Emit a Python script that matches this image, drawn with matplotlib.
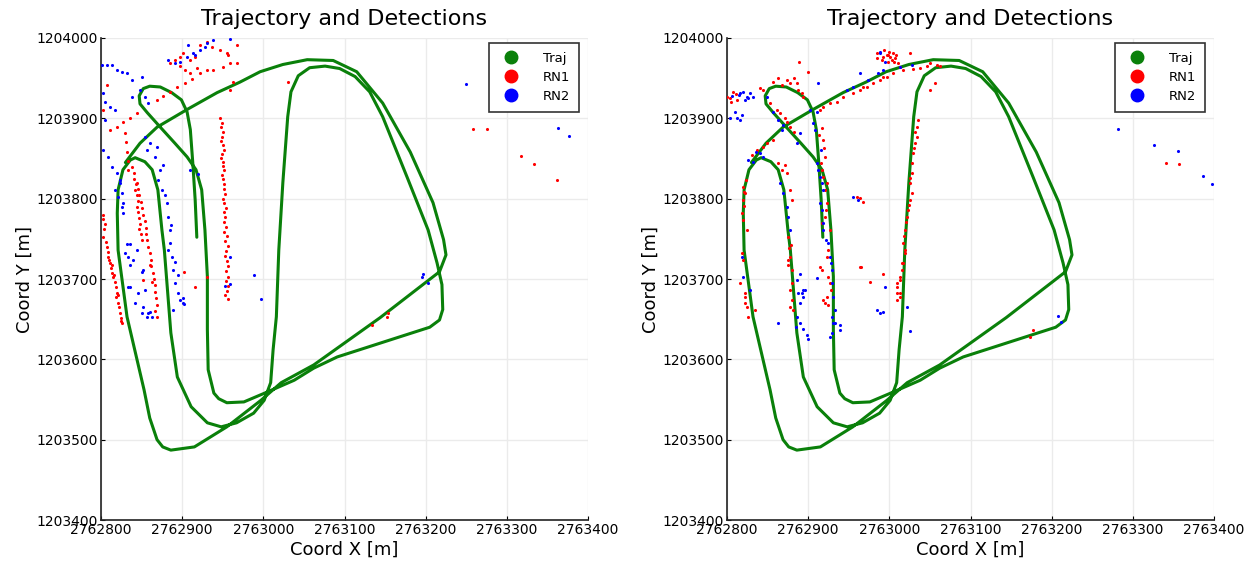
import numpy as np
import matplotlib
matplotlib.use("Agg")
import matplotlib.pyplot as plt
from matplotlib.lines import Line2D

X0 = 2762800
Y0 = 1203400
x_ticks = [2762800, 2762900, 2763000, 2763100, 2763200, 2763300, 2763400]
y_ticks = [1203400, 1203500, 1203600, 1203700, 1203800, 1203900, 1204000]
title = "Trajectory and Detections"
legend_labels = ["Traj", "RN1", "RN2"]

# trajectory (meters east / north of X0, Y0)
traj_dx = [30, 48, 69, 106, 143, 171, 196, 224, 254, 286, 315, 347, 381, 409, 422, 425, 417,
           344, 262, 222, 197, 155, 115, 86, 76, 69, 60, 53, 32, 21, 20, 21, 27, 36, 42, 54, 63, 70,
           75, 78, 86, 94, 111, 131, 148, 167, 188, 201, 209, 212, 216, 219, 224, 230, 234, 243,
           257, 276, 294, 313, 331, 347, 377, 403, 414, 420, 421, 417, 405, 368, 328, 291, 262,
           238, 204, 176, 155, 145, 139, 132, 131, 131, 128, 124, 117, 106, 91, 73, 57, 48, 47,
           52, 60, 73, 87, 99, 106, 110, 113, 116, 118]
traj_dy = [445, 469, 489, 511, 532, 545, 558, 567, 573, 572, 558, 519, 458, 395, 349, 330, 309,
           252, 193, 171, 149, 116, 91, 87, 91, 100, 127, 162, 253, 336, 382, 411, 436, 448, 451,
           446, 436, 411, 361, 336, 233, 178, 141, 121, 116, 121, 133, 149, 171, 212, 253, 336,
           420, 502, 533, 553, 563, 565, 562, 552, 533, 502, 427, 361, 320, 293, 262, 249, 240,
           228, 215, 203, 189, 174, 159, 147, 146, 151, 158, 187, 237, 303, 361, 411, 436, 452,
           469, 489, 507, 518, 528, 537, 540, 539, 532, 523, 508, 486, 445, 398, 352]

# ---- left panel detections ----
rn1_left = [
    (147, 500), (149, 494), (148, 489), (150, 483), (149, 477), (148, 472), (150, 467), (151, 461),
    (149, 456), (148, 451), (150, 446), (150, 441), (151, 436), (149, 430), (150, 425), (151, 418),
    (151, 412), (153, 406), (150, 400), (152, 394), (154, 388), (152, 383), (153, 377), (151, 371),
    (154, 365), (152, 359), (155, 353), (153, 347), (156, 341), (154, 335), (153, 329), (155, 322),
    (157, 316), (154, 310), (156, 303), (154, 297), (157, 291), (155, 285), (153, 280), (156, 275),
    (2, 380), (5, 369), (2, 352), (7, 340), (9, 328), (11, 320), (14, 308), (17, 296), (20, 283),
    (21, 270), (23, 258), (26, 245), (3, 375), (4, 362), (6, 346), (8, 334), (10, 324), (12, 314),
    (15, 302), (18, 290), (19, 277), (22, 265), (24, 252), (25, 248), (16, 305), (21, 280), (13, 318),
    (38, 439), (40, 432), (41, 425), (43, 418), (42, 411), (44, 404), (45, 397), (44, 390), (46, 383),
    (47, 376), (48, 369), (47, 362), (49, 356), (50, 349),
    (44, 420), (46, 412), (47, 404), (49, 396), (51, 388), (52, 380), (54, 372), (55, 364), (56, 356),
    (57, 348), (58, 340), (60, 332), (61, 324), (62, 316), (64, 308), (65, 300), (66, 292), (67, 284),
    (68, 276), (69, 268), (67, 260), (69, 253), (63, 296), (60, 318), (52, 299),
    (11, 486), (20, 489), (27, 496), (36, 500), (44, 507), (2, 510), (7, 542),
    (30, 482), (31, 470), (32, 458), (33, 447), (33, 436),
    (69, 523), (76, 528), (85, 533), (93, 539), (103, 544), (112, 549), (122, 556), (130, 560),
    (138, 560), (150, 564), (159, 569), (167, 569), (85, 569), (91, 573), (101, 581), (109, 573),
    (116, 576), (97, 565), (103, 560), (109, 556), (118, 563), (155, 581), (156, 579), (162, 545),
    (159, 535), (122, 591), (130, 595), (137, 589), (146, 585), (167, 591), (97, 576),
    (458, 487), (475, 487), (517, 453), (533, 443), (562, 423),
    (230, 545), (334, 243), (353, 258), (352, 253), (116, 290), (102, 309), (130, 303),
]
rn2_left = [
    (1, 566), (7, 566), (20, 560), (26, 558), (32, 556), (38, 548), (2, 532), (5, 520), (11, 514),
    (17, 510), (5, 498), (2, 461), (9, 452), (14, 439), (20, 432), (23, 420), (21, 402), (26, 390),
    (27, 382), (48, 535), (54, 527), (58, 519), (50, 552), (38, 527), (14, 566),
    (82, 573), (91, 569), (97, 570), (106, 576), (113, 581), (122, 585), (130, 594), (138, 598),
    (107, 591), (116, 579), (128, 589), (159, 599),
    (60, 469), (69, 464), (66, 452), (73, 436), (70, 423), (75, 411), (81, 395), (82, 377), (85, 361),
    (85, 345), (87, 327), (89, 311), (91, 295), (95, 283), (97, 274), (101, 270), (89, 261), (54, 477),
    (57, 461), (76, 442), (79, 405), (86, 367), (82, 336), (91, 321), (95, 305),
    (32, 344), (36, 344), (30, 332), (44, 336), (39, 324), (52, 311), (36, 290), (46, 283), (42, 270),
    (58, 258), (63, 253), (33, 327), (36, 317), (50, 309), (33, 290), (52, 265), (50, 258), (57, 253),
    (60, 259), (54, 286),
    (23, 423), (27, 395), (26, 407), (17, 411),
    (109, 436), (119, 431), (189, 305), (197, 275), (397, 306), (395, 303), (403, 295), (159, 327),
    (153, 291), (159, 294), (101, 276), (102, 269),
    (450, 543), (563, 488), (576, 478),
]

# ---- right panel detections ----
rn1_right = [
    (4, 525), (7, 533), (12, 523), (5, 520), (0, 527), (41, 538), (44, 535), (11, 530),
    (57, 545), (74, 548), (78, 544), (86, 544), (87, 535), (92, 532), (93, 527), (100, 558), (63, 550),
    (68, 542), (82, 550),
    (53, 519), (62, 510), (65, 507), (71, 500), (74, 496), (77, 489), (82, 483),
    (44, 464), (49, 469), (57, 473), (114, 510), (118, 514), (127, 519), (135, 520), (143, 527),
    (155, 532), (164, 535), (172, 539), (180, 544), (188, 548), (197, 552), (204, 556), (217, 560),
    (229, 561), (238, 563), (246, 565), (250, 569), (259, 566), (262, 565), (256, 544), (250, 535),
    (167, 539), (192, 552), (37, 461), (31, 454),
    (197, 579), (201, 576), (203, 573), (198, 570), (207, 575), (211, 569), (213, 564), (204, 581),
    (185, 575), (225, 581), (193, 585), (199, 583), (206, 570), (208, 579), (191, 573), (185, 581),
    (192, 576), (198, 579), (89, 570),
    (117, 488), (118, 473), (121, 452), (117, 436), (118, 427), (123, 420), (121, 411), (113, 479),
    (119, 463), (116, 444),
    (63, 444), (68, 436), (71, 442),
    (20, 415), (22, 407), (20, 398), (18, 382), (20, 374), (25, 361), (20, 324), (16, 295), (22, 278),
    (25, 265), (34, 261), (26, 253), (18, 332), (22, 283), (22, 270), (21, 391), (21, 408), (23, 423),
    (74, 432), (77, 411), (80, 398), (75, 352), (77, 327), (75, 324), (80, 311), (77, 286), (80, 274),
    (77, 265), (81, 261), (75, 317), (80, 295), (76, 339), (79, 342),
    (123, 395), (121, 377), (117, 370), (127, 361), (124, 336), (123, 327), (117, 311), (124, 303),
    (127, 295), (123, 278), (121, 270), (124, 268), (114, 315), (118, 274), (128, 286), (122, 386),
    (235, 498), (234, 489), (234, 477), (232, 469), (229, 457), (228, 444), (228, 432), (225, 420),
    (228, 407), (225, 398), (223, 386), (222, 377), (219, 361), (217, 345), (219, 336), (216, 320),
    (213, 303), (210, 290), (213, 283), (219, 332), (217, 320), (216, 311), (213, 299), (210, 295),
    (209, 283), (213, 278), (210, 274), (232, 483), (230, 463), (226, 426), (224, 392), (220, 371),
    (218, 354),
    (160, 402), (164, 401), (167, 396), (165, 315), (176, 296), (192, 306), (164, 315),
    (541, 444), (557, 443), (373, 228), (377, 237),
]
rn2_right = [
    (4, 500), (10, 508), (16, 532), (20, 533), (25, 527), (26, 525), (28, 532), (22, 523), (18, 504),
    (12, 500), (6, 528), (15, 529), (32, 527),
    (49, 527), (57, 508), (63, 498), (69, 492), (68, 486), (86, 469), (90, 482),
    (41, 457), (44, 452), (32, 446), (102, 510), (111, 508), (148, 535), (164, 556), (188, 581),
    (192, 560), (112, 544), (188, 583), (194, 570), (155, 539), (174, 548), (186, 556), (213, 564),
    (228, 566), (36, 458), (26, 448),
    (111, 444), (112, 436), (114, 427), (117, 420), (118, 411), (114, 395), (117, 386), (118, 370),
    (118, 361), (124, 345), (127, 327), (129, 311), (129, 295), (130, 278), (133, 261), (130, 245),
    (108, 486), (106, 494), (129, 253), (133, 245), (139, 243), (139, 237), (127, 228), (129, 233),
    (116, 461), (122, 349), (128, 320),
    (65, 420), (69, 407), (74, 390), (75, 377), (77, 361), (86, 299), (87, 283), (90, 270), (86, 253),
    (90, 245), (93, 286), (90, 306), (96, 286), (93, 278), (92, 283), (85, 240), (93, 238), (98, 230),
    (100, 225),
    (18, 327), (20, 303), (28, 286), (63, 245), (16, 498),
    (155, 402), (161, 398), (185, 261), (188, 258), (192, 259), (194, 290), (111, 301), (222, 265),
    (225, 235), (482, 487), (526, 467), (555, 459), (586, 428), (597, 418), (408, 254), (411, 247),
]

panels = [(rn1_left, rn2_left), (rn1_right, rn2_right)]

fig = plt.figure(figsize=(12.49, 5.62), dpi=100)
positions = [[0.0809, 0.0747, 0.3899, 0.8577], [0.5821, 0.0747, 0.3899, 0.8577]]

traj_x = X0 + np.array(traj_dx)
traj_y = Y0 + np.array(traj_dy)

for pos, (rn1, rn2) in zip(positions, panels):
    ax = fig.add_axes(pos)
    ax.plot(traj_x, traj_y, color="#0a800a", lw=2.2, zorder=2,
            solid_capstyle="round", solid_joinstyle="round")
    r = np.array(rn1)
    b = np.array(rn2)
    ax.scatter(X0 + r[:, 0], Y0 + r[:, 1], s=5, c="red", linewidths=0, zorder=3)
    ax.scatter(X0 + b[:, 0], Y0 + b[:, 1], s=5, c="blue", linewidths=0, zorder=3)
    ax.set_xlim(x_ticks[0], x_ticks[-1])
    ax.set_ylim(y_ticks[0], y_ticks[-1])
    ax.set_xticks(x_ticks)
    ax.set_yticks(y_ticks)
    ax.ticklabel_format(useOffset=False, style="plain")
    ax.grid(True, color="#ebebeb", lw=1)
    ax.set_axisbelow(True)
    for s in ["top", "right"]:
        ax.spines[s].set_visible(False)
    for s in ["left", "bottom"]:
        ax.spines[s].set_color("#222222")
        ax.spines[s].set_linewidth(1.2)
    ax.tick_params(direction="in", length=3, labelsize=10, pad=2)
    ax.set_title(title, fontsize=16, pad=9)
    ax.set_xlabel("Coord X [m]", fontsize=13, labelpad=3)
    ax.set_ylabel("Coord Y [m]", fontsize=13, labelpad=2)
    handles = [Line2D([], [], ls="", marker="o", ms=9, color=c) for c in ["#0a800a", "red", "blue"]]
    leg = ax.legend(handles, legend_labels, loc="upper right", fontsize=9.5, fancybox=False,
                    framealpha=1, edgecolor="#333333", borderpad=0.7, labelspacing=0.45,
                    handletextpad=1.4, borderaxespad=0, bbox_to_anchor=(0.982, 0.99))
    leg.get_frame().set_linewidth(1.2)

fig.savefig("out.png", dpi=100)
